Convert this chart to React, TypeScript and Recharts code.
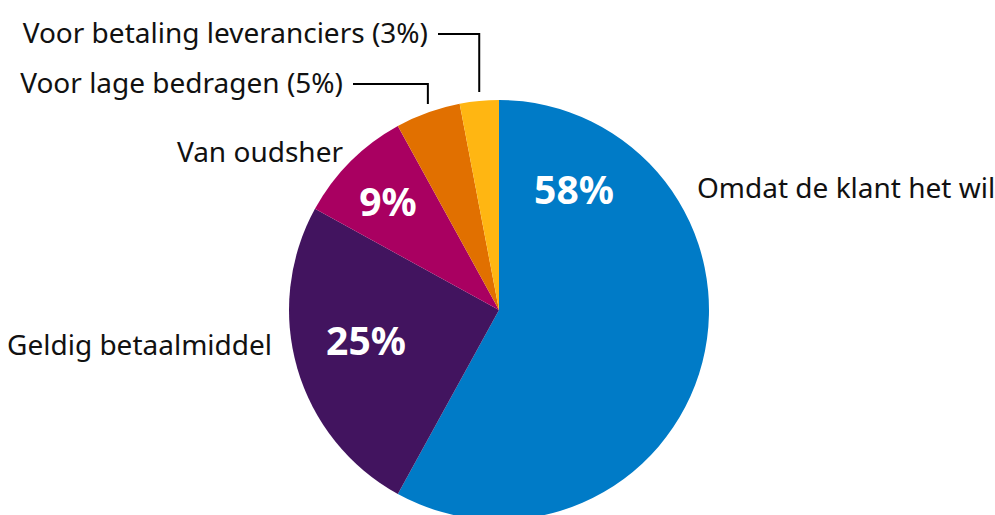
import { PieChart, Pie, Cell } from 'recharts';

const names = [
  'Omdat de klant het wil',
  'Geldig betaalmiddel',
  'Van oudsher',
  'Voor lage bedragen',
  'Voor betaling leveranciers',
];
const shares = [58, 25, 9, 5, 3];
const colors = ['#007BC7', '#42145F', '#A90061', '#E17000', '#FFB612'];

const data = names.map((name, i) => ({ name, value: shares[i] }));

const FONT = '"Noto Sans", sans-serif';
const RAD = Math.PI / 180;

// label placement relative to pie centre (dx, dy), text anchor, inner % position
const nameSpots = [
  { dx: 198, dy: -112, anchor: 'start', px: 75, py: -106 },
  { dx: -227, dy: 45, anchor: 'end', px: -133, py: 45 },
  { dx: -156, dy: -148, anchor: 'end', px: -111, py: -94 },
  { dx: -156, dy: -217, anchor: 'end' },
  { dx: -71, dy: -267, anchor: 'end' },
];

function renderLabel(props: any) {
  const { cx, cy, outerRadius, midAngle, index, value, name } = props;
  const spot = nameSpots[index];
  const small = value < 6;
  if (small) {
    const ex = cx + outerRadius * Math.cos(-midAngle * RAD);
    const ey = cy + (outerRadius + 9) * Math.sin(-midAngle * RAD);
    const ty = cy + spot.dy - 9;
    const tx = cx + spot.dx;
    return (
      <g>
        <polyline
          points={`${ex},${ey} ${ex},${ty} ${tx + 10},${ty}`}
          fill="none"
          stroke="#000"
          strokeWidth={2}
        />
        <text x={tx} y={cy + spot.dy} textAnchor="end" fontFamily={FONT} fontSize={28} fill="#111">
          {`${name} (${value}%)`}
        </text>
      </g>
    );
  }
  return (
    <g>
      <text
        x={cx + spot.dx}
        y={cy + spot.dy}
        textAnchor={spot.anchor}
        fontFamily={FONT}
        fontSize={28}
        fill="#111"
      >
        {name}
      </text>
      <text
        x={cx + (spot.px ?? 0)}
        y={cy + (spot.py ?? 0)}
        textAnchor="middle"
        fontFamily={FONT}
        fontSize={39}
        fontWeight="bold"
        fill="#fff"
      >
        {`${value}%`}
      </text>
    </g>
  );
}

export default function App() {
  return (
    <div style={{ position: 'absolute', left: 0, top: 0, width: 995, height: 515, background: '#fff', overflow: 'hidden' }}>
      <PieChart width={995} height={515} margin={{ top: 0, right: 0, bottom: 0, left: 0 }}>
        <Pie
          data={data}
          dataKey="value"
          nameKey="name"
          cx={499}
          cy={310}
          outerRadius={210}
          startAngle={90}
          endAngle={-270}
          stroke="none"
          labelLine={false}
          label={renderLabel}
          isAnimationActive={false}
        >
          {data.map((d, i) => (
            <Cell key={d.name} fill={colors[i]} />
          ))}
        </Pie>
      </PieChart>
    </div>
  );
}
